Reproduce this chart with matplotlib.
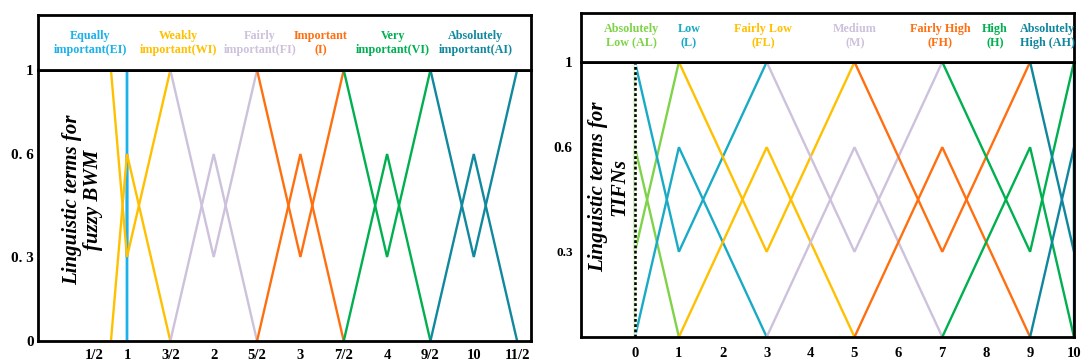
import numpy as np
import matplotlib
matplotlib.use("Agg")
import matplotlib.pyplot as plt
from matplotlib.transforms import ScaledTranslation

plt.rcParams["font.family"] = ["Liberation Serif", "DejaVu Serif"]
plt.rcParams["font.weight"] = "bold"

# ---------------- data ----------------
bwm_terms = ["Equally\nimportant(EI)", "Weakly\nimportant(WI)", "Fairly\nimportant(FI)",
             "Important\n(I)", "Very\nimportant(VI)", "Absolutely\nimportant(AI)"]
bwm_l = [1, 0.5, 1.5, 2.5, 3.5, 4.5]
bwm_m = [1, 1, 2, 3, 4, 5]
bwm_u = [1, 1.5, 2.5, 3.5, 4.5, 5.5]
bwm_colors = ["#1BB1EA", "#FFC000", "#CDC1DC", "#FF6F0F", "#00B050", "#10889E"]
bwm_xticks = [0.5, 1, 1.5, 2, 2.5, 3, 3.5, 4, 4.5, 5, 5.5]
bwm_xticklabels = ["1/2", "1", "3/2", "2", "5/2", "3", "7/2", "4", "9/2", "10", "11/2"]
bwm_yticks = [0, 0.3, 0.6, 1]
bwm_yticklabels = ["0", "0. 3", "0. 6", "1"]

tifn_terms = ["Absolutely\nLow (AL)", "Low\n(L)", "Fairly Low\n(FL)", "Medium\n(M)",
              "Fairly High\n(FH)", "High\n(H)", "Absolutely\nHigh (AH)"]
tifn_l = [0, 0, 1, 3, 5, 7, 9]
tifn_m = [0, 1, 3, 5, 7, 9, 10]
tifn_u = [1, 3, 5, 7, 9, 10, 10]
tifn_colors = ["#7ED348", "#19ABC6", "#FFC000", "#CDC1DC", "#FF6F0F", "#00B050", "#10869E"]
tifn_xticks = [0, 1, 2, 3, 4, 5, 6, 7, 8, 9, 10]
tifn_xticklabels = ["0", "1", "2", "3", "4", "5", "6", "7", "8", "9", "10"]
tifn_yticks = [0.3, 0.6, 1]
tifn_yticklabels = ["0.3", "0.6", "1"]

mu_peak = 0.6    # membership at the middle point
nu_trough = 0.3  # non-membership at the middle point

# ---------------- scales (as drawn in the original) ----------------
_yin = [-1, 0, 0.3, 0.6, 1, 2]
_yout = [-1, 0, 0.31, 0.69, 1, 2]
def yfwd(v):
    return np.interp(v, _yin, _yout)
def yinv(v):
    return np.interp(v, _yout, _yin)

_xin = [-10, 0.5, 1, 20]
_xout = [-9.685, 0.815, 1, 20]
def xfwd(v):
    return np.interp(v, _xin, _xout)
def xinv(v):
    return np.interp(v, _xout, _xin)

W, H = 1082, 363
fig = plt.figure(figsize=(W / 100, H / 100), dpi=100)

def px_axes(x0, y0, x1, y1):
    return fig.add_axes([x0 / W, 1 - y1 / H, (x1 - x0) / W, (y1 - y0) / H])

SPW = 2.0
LW = 1.7

def style_frame(ax):
    for s in ax.spines.values():
        s.set_linewidth(SPW)
        s.set_color("black")

# ---------------- left panel ----------------
axL = px_axes(38, 70, 531, 341)
axL.set_xscale("function", functions=(xfwd, xinv))
axL.set_yscale("function", functions=(yfwd, yinv))
for l, m, u, c in zip(bwm_l, bwm_m, bwm_u, bwm_colors):
    axL.plot([l, m, u], [0, mu_peak, 0], color=c, lw=LW, solid_joinstyle="miter")
    axL.plot([l, m, u], [1, nu_trough, 1], color=c, lw=LW, solid_joinstyle="miter")
axL.set_xlim(-0.3415, 5.66)
axL.set_ylim(0, 1)
axL.set_xticks(bwm_xticks, bwm_xticklabels)
axL.set_yticks(bwm_yticks, bwm_yticklabels)
axL.tick_params(axis="x", length=0, pad=6, labelsize=10.5)
axL.tick_params(axis="y", length=0, pad=3, labelsize=11)
style_frame(axL)
t0 = axL.xaxis.get_major_ticks()[0]
t0.label1.set_transform(t0.label1.get_transform() + ScaledTranslation(-0.17, 0, fig.dpi_scale_trans))

hdrL = px_axes(38, 15, 531, 70)
hdrL.set_xticks([]); hdrL.set_yticks([])
style_frame(hdrL)
bwm_hdr_x = [90, 178, 260, 321, 393, 476]
for t, c, x in zip(bwm_terms, bwm_colors, bwm_hdr_x):
    fig.text(x / W, 1 - 43 / H, t, color=c, ha="center", va="center",
             fontsize=8.7, fontweight="bold", multialignment="center")

fig.text(83 / W, 1 - 200 / H, "Linguistic terms for\nfuzzy BWM", rotation=90,
         ha="center", va="center", multialignment="center", fontsize=15,
         fontweight="bold", fontstyle="italic", linespacing=1.05)

# ---------------- right panel ----------------
axR = px_axes(581, 62, 1074, 337)
axR.set_yscale("function", functions=(yfwd, yinv))
for l, m, u, c in zip(tifn_l, tifn_m, tifn_u, tifn_colors):
    axR.plot([l, m, u], [0, mu_peak, 0], color=c, lw=LW, solid_joinstyle="miter")
    axR.plot([l, m, u], [1, nu_trough, 1], color=c, lw=LW, solid_joinstyle="miter")
axR.plot([0, 0], [0, 1], color="black", lw=1.8, linestyle=(0, (1.1, 1.0)),
         gapcolor="white", zorder=2.4)
axR.set_xlim(-1.23, 10)
axR.set_ylim(0, 1)
axR.set_xticks(tifn_xticks, tifn_xticklabels)
axR.set_yticks(tifn_yticks, tifn_yticklabels)
axR.tick_params(axis="x", length=0, pad=7, labelsize=10.5)
axR.tick_params(axis="y", length=0, pad=6, labelsize=11)
axR.get_yticklabels()[0].set_fontsize(9.5)
style_frame(axR)

hdrR = px_axes(581, 13, 1074, 62)
hdrR.set_xticks([]); hdrR.set_yticks([])
style_frame(hdrR)
tifn_hdr_x = [631, 689, 763, 855, 940, 995, 1047]
for t, c, x in zip(tifn_terms, tifn_colors, tifn_hdr_x):
    fig.text(x / W, 1 - 36 / H, t, color=c, ha="center", va="center",
             fontsize=8.7, fontweight="bold", multialignment="center")

fig.text(609 / W, 1 - 187 / H, "Linguistic terms for\nTIFNs", rotation=90,
         ha="center", va="center", multialignment="center", fontsize=15,
         fontweight="bold", fontstyle="italic", linespacing=1.05)

fig.savefig("out.png", dpi=100)
